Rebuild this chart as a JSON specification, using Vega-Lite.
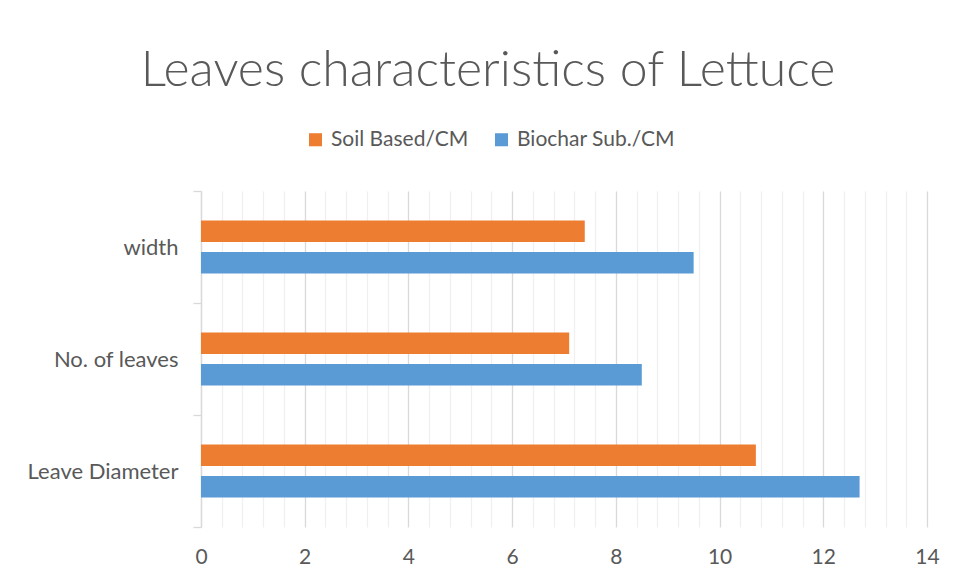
{
  "$schema": "https://vega.github.io/schema/vega-lite/v6.json",
  "width": 726,
  "height": 336,
  "autosize": {"type": "none"},
  "padding": {"left": 201, "top": 191, "right": 31, "bottom": 53},
  "background": "white",
  "config": {
    "view": {"stroke": null},
    "font": "Lato"
  },
  "title": {
    "text": "Leaves characteristics of Lettuce",
    "fontSize": 50,
    "fontWeight": 300,
    "font": "Lato",
    "color": "#595959",
    "anchor": "middle",
    "frame": "group",
    "dx": -76,
    "offset": 33
  },
  "data": {
    "values": [
      {"category": "width", "series": "Soil Based/CM", "value": 7.4},
      {"category": "width", "series": "Biochar Sub./CM", "value": 9.5},
      {"category": "No. of leaves", "series": "Soil Based/CM", "value": 7.1},
      {"category": "No. of leaves", "series": "Biochar Sub./CM", "value": 8.5},
      {"category": "Leave Diameter", "series": "Soil Based/CM", "value": 10.7},
      {"category": "Leave Diameter", "series": "Biochar Sub./CM", "value": 12.7}
    ]
  },
  "resolve": {"axis": {"x": "independent"}},
  "layer": [
    {
      "mark": {"type": "bar", "opacity": 0},
      "encoding": {
        "y": {
          "field": "category", "type": "nominal",
          "sort": ["width", "No. of leaves", "Leave Diameter"],
          "scale": {"paddingInner": 0, "paddingOuter": 0},
          "axis": {
            "title": null, "tickBand": "extent", "domainColor": "#d9d9d9", "domainWidth": 1.3,
            "tickColor": "#d9d9d9", "tickSize": 8, "tickWidth": 1.3,
            "labelFont": "Lato", "labelFontSize": 22, "labelColor": "#595959", "labelPadding": 15
          }
        },
        "x": {
          "field": "value", "type": "quantitative", "stack": null,
          "scale": {"domain": [0, 14], "nice": false},
          "axis": {
            "orient": "bottom",
            "values": [0.4, 0.8, 1.2, 1.6, 2.4, 2.8, 3.2, 3.6, 4.4, 4.8, 5.2, 5.6, 6.4, 6.8, 7.2, 7.6, 8.4, 8.8, 9.2, 9.6, 10.4, 10.8, 11.2, 11.6, 12.4, 12.8, 13.2, 13.6],
            "grid": true, "gridColor": "#f0f0f0", "gridWidth": 1.3,
            "labels": false, "ticks": false, "domain": false, "title": null
          }
        }
      }
    },
    {
      "mark": {"type": "bar"},
      "encoding": {
        "y": {
          "field": "category", "type": "nominal",
          "sort": ["width", "No. of leaves", "Leave Diameter"],
          "scale": {"paddingInner": 0, "paddingOuter": 0},
          "axis": {
            "title": null, "tickBand": "extent", "domainColor": "#d9d9d9", "domainWidth": 1.3,
            "tickColor": "#d9d9d9", "tickSize": 8, "tickWidth": 1.3,
            "labelFont": "Lato", "labelFontSize": 22, "labelColor": "#595959", "labelPadding": 15
          }
        },
        "yOffset": {
          "field": "series", "type": "nominal",
          "sort": ["Soil Based/CM", "Biochar Sub./CM"],
          "scale": {"paddingInner": 0.317, "paddingOuter": 0.936}
        },
        "x": {
          "field": "value", "type": "quantitative", "stack": null,
          "scale": {"domain": [0, 14], "nice": false},
          "axis": {
            "orient": "bottom",
            "values": [0, 2, 4, 6, 8, 10, 12, 14],
            "grid": true, "gridColor": "#d9d9d9", "gridWidth": 1.3,
            "ticks": false, "domain": false, "title": null, "labelFlush": false,
            "labelFont": "Lato", "labelFontSize": 21, "labelColor": "#595959", "labelPadding": 19
          }
        },
        "color": {
          "field": "series", "type": "nominal",
          "scale": {"domain": ["Soil Based/CM", "Biochar Sub./CM"], "range": ["#ED7D31", "#5B9BD5"]},
          "legend": {
            "title": null, "orient": "none", "direction": "horizontal",
            "legendX": 104, "legendY": -62,
            "symbolType": "square", "symbolSize": 170, "symbolStrokeWidth": 0, "symbolOpacity": 1,
            "labelFont": "Lato", "labelFontSize": 21, "labelColor": "#595959", "labelOffset": 5,
            "columnPadding": 22
          }
        }
      }
    }
  ]
}
